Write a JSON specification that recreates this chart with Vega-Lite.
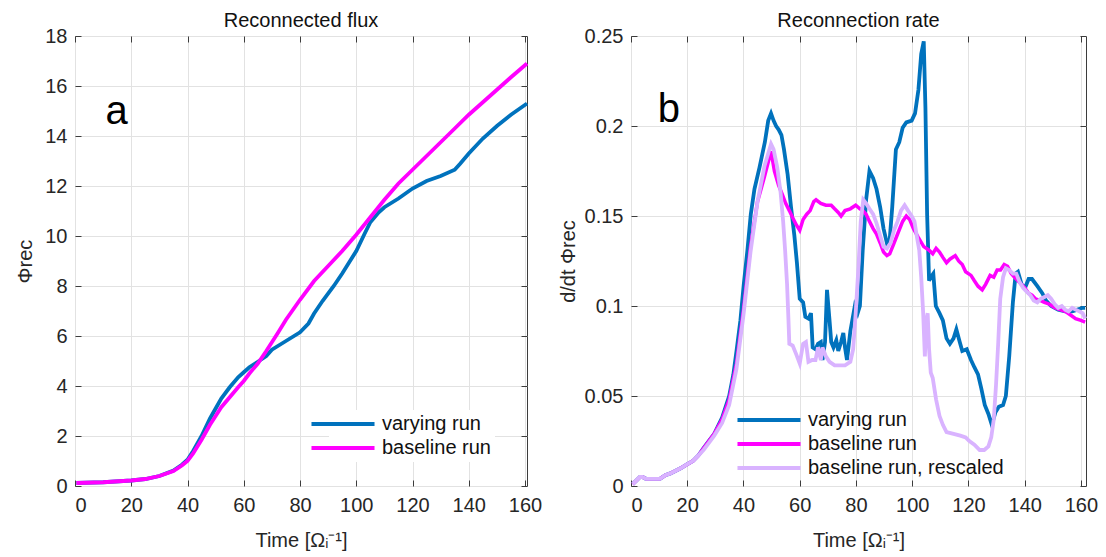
{
  "$schema": "https://vega.github.io/schema/vega-lite/v6.json",
  "padding": {"left": 15, "top": 10, "right": 2, "bottom": 2},
  "spacing": 14,
  "datasets": {
    "flux_vary": [
      {"t":0.5,"v":0.12},{"t":10,"v":0.15},{"t":20,"v":0.22},{"t":25,"v":0.28},{"t":30,"v":0.4},{"t":35,"v":0.62},{"t":38,"v":0.85},{"t":40,"v":1.05},{"t":42,"v":1.4},{"t":45,"v":2.0},{"t":48,"v":2.7},{"t":50,"v":3.1},{"t":52,"v":3.5},{"t":55,"v":3.95},{"t":58,"v":4.35},{"t":60,"v":4.55},{"t":62,"v":4.75},{"t":65,"v":4.97},{"t":68,"v":5.2},{"t":70,"v":5.45},{"t":75,"v":5.8},{"t":80,"v":6.15},{"t":83,"v":6.5},{"t":85,"v":6.9},{"t":88,"v":7.4},{"t":92,"v":8.0},{"t":95,"v":8.5},{"t":100,"v":9.4},{"t":103,"v":10.1},{"t":105,"v":10.55},{"t":108,"v":10.95},{"t":110,"v":11.15},{"t":115,"v":11.5},{"t":120,"v":11.9},{"t":125,"v":12.2},{"t":130,"v":12.4},{"t":135,"v":12.65},{"t":137,"v":12.9},{"t":140,"v":13.3},{"t":145,"v":13.9},{"t":150,"v":14.4},{"t":155,"v":14.85},{"t":160.7,"v":15.3}
    ],
    "flux_base": [
      {"t":0.5,"v":0.12},{"t":10,"v":0.15},{"t":20,"v":0.22},{"t":25,"v":0.28},{"t":30,"v":0.4},{"t":35,"v":0.6},{"t":38,"v":0.82},{"t":40,"v":1.0},{"t":42,"v":1.3},{"t":45,"v":1.85},{"t":48,"v":2.45},{"t":50,"v":2.8},{"t":52,"v":3.15},{"t":55,"v":3.55},{"t":58,"v":3.95},{"t":60,"v":4.2},{"t":62,"v":4.5},{"t":65,"v":4.9},{"t":68,"v":5.4},{"t":70,"v":5.75},{"t":72,"v":6.1},{"t":75,"v":6.65},{"t":80,"v":7.45},{"t":85,"v":8.2},{"t":90,"v":8.8},{"t":95,"v":9.4},{"t":100,"v":10.05},{"t":105,"v":10.75},{"t":110,"v":11.45},{"t":115,"v":12.1},{"t":120,"v":12.65},{"t":125,"v":13.2},{"t":130,"v":13.75},{"t":135,"v":14.3},{"t":140,"v":14.85},{"t":145,"v":15.35},{"t":150,"v":15.85},{"t":155,"v":16.35},{"t":160.7,"v":16.9}
    ],
    "rate_vary": [
      {"t":0.6,"v":0.001},{"t":1.9,"v":0.003},{"t":3.2,"v":0.005},{"t":4.1,"v":0.005},{"t":5.3,"v":0.004},{"t":7.2,"v":0.004},{"t":9.1,"v":0.004},{"t":10.3,"v":0.004},{"t":12.2,"v":0.006},{"t":14,"v":0.007},{"t":15.9,"v":0.0085},{"t":17.8,"v":0.010},{"t":19.9,"v":0.012},{"t":22.1,"v":0.014},{"t":24,"v":0.017},{"t":25.8,"v":0.021},{"t":27.7,"v":0.025},{"t":29.6,"v":0.029},
      {"t":32.4,"v":0.038},{"t":34.9,"v":0.050},{"t":36.4,"v":0.062},{"t":37.6,"v":0.076},{"t":38.9,"v":0.092},{"t":40.1,"v":0.112},{"t":41.4,"v":0.131},{"t":42.6,"v":0.151},{"t":43.9,"v":0.165},{"t":45.7,"v":0.177},{"t":47.6,"v":0.191},{"t":48.8,"v":0.203},{"t":49.8,"v":0.207},{"t":50.7,"v":0.203},{"t":51.6,"v":0.200},{"t":52.5,"v":0.198},{"t":53.5,"v":0.195},{"t":54.4,"v":0.187},{"t":55.7,"v":0.173},{"t":56.9,"v":0.155},{"t":58.1,"v":0.139},{"t":59,"v":0.124},{"t":60,"v":0.104},{"t":61.2,"v":0.102},{"t":62,"v":0.094},{"t":63.1,"v":0.093},{"t":64,"v":0.096},{"t":64.6,"v":0.077},{"t":65.6,"v":0.076},{"t":66.5,"v":0.079},{"t":67.5,"v":0.080},{"t":68.1,"v":0.070},{"t":69,"v":0.080},{"t":69.7,"v":0.109},{"t":70.6,"v":0.092},{"t":71.2,"v":0.080},{"t":72,"v":0.077},{"t":73,"v":0.081},{"t":73.7,"v":0.075},{"t":74.7,"v":0.080},{"t":75.5,"v":0.085},{"t":76.1,"v":0.077},{"t":76.8,"v":0.070},{"t":78,"v":0.086},{"t":79.6,"v":0.100},{"t":80.6,"v":0.096},{"t":81.4,"v":0.100},{"t":82.4,"v":0.131},{"t":83.6,"v":0.159},{"t":84.8,"v":0.175},{"t":86.1,"v":0.171},{"t":87.3,"v":0.165},{"t":88.6,"v":0.155},{"t":89.8,"v":0.143},{"t":91,"v":0.135},{"t":92,"v":0.137},{"t":92.9,"v":0.155},{"t":94.2,"v":0.187},{"t":95.4,"v":0.191},{"t":96.6,"v":0.199},{"t":97.9,"v":0.202},{"t":99.8,"v":0.203},{"t":101,"v":0.207},{"t":102.2,"v":0.220},{"t":103.2,"v":0.240},{"t":104.1,"v":0.247},{"t":104.7,"v":0.210},{"t":105.3,"v":0.151},{"t":106,"v":0.114},{"t":106.6,"v":0.116},{"t":107.5,"v":0.118},{"t":108.4,"v":0.100},{"t":109.7,"v":0.096},{"t":110.9,"v":0.092},{"t":112.2,"v":0.082},{"t":113.4,"v":0.079},{"t":114.7,"v":0.082},{"t":115.7,"v":0.087},{"t":116.9,"v":0.080},{"t":117.8,"v":0.075},{"t":119.4,"v":0.076},{"t":120.9,"v":0.070},{"t":122.1,"v":0.066},{"t":123.4,"v":0.062},{"t":124.6,"v":0.054},{"t":125.8,"v":0.045},{"t":127.1,"v":0.040},{"t":128.3,"v":0.034},{"t":129.6,"v":0.041},{"t":130.8,"v":0.044},{"t":132.3,"v":0.045},{"t":133.3,"v":0.050},{"t":134.5,"v":0.072},{"t":135.8,"v":0.102},{"t":136.8,"v":0.118},{"t":137.6,"v":0.119},{"t":138.9,"v":0.112},{"t":140.1,"v":0.110},{"t":141.4,"v":0.115},{"t":142.6,"v":0.115},{"t":144.5,"v":0.111},{"t":146.3,"v":0.107},{"t":147.6,"v":0.103},{"t":149.4,"v":0.100},{"t":151.9,"v":0.098},{"t":154.4,"v":0.097},{"t":156.9,"v":0.097},{"t":158.8,"v":0.098},{"t":160.6,"v":0.099},{"t":161.5,"v":0.099}
    ],
    "rate_base": [
      {"t":0.6,"v":0.001},{"t":1.9,"v":0.003},{"t":3.2,"v":0.005},{"t":4.1,"v":0.005},{"t":5.3,"v":0.004},{"t":7.2,"v":0.004},{"t":9.1,"v":0.004},{"t":10.3,"v":0.004},{"t":12.2,"v":0.006},{"t":14,"v":0.007},{"t":15.9,"v":0.0085},{"t":17.8,"v":0.010},{"t":19.9,"v":0.012},{"t":22.1,"v":0.014},{"t":24,"v":0.017},{"t":25.8,"v":0.021},{"t":27.7,"v":0.025},{"t":29.6,"v":0.029},
      {"t":32.4,"v":0.037},{"t":34.9,"v":0.048},{"t":37.5,"v":0.068},{"t":40,"v":0.098},{"t":42.5,"v":0.133},{"t":45,"v":0.158},{"t":47.5,"v":0.172},{"t":49.8,"v":0.186},{"t":51,"v":0.175},{"t":52.5,"v":0.167},{"t":53.8,"v":0.162},{"t":55,"v":0.157},{"t":56.3,"v":0.153},{"t":57.5,"v":0.149},{"t":58.8,"v":0.145},{"t":60,"v":0.142},{"t":61.2,"v":0.148},{"t":62.5,"v":0.151},{"t":63.7,"v":0.153},{"t":65,"v":0.158},{"t":65.8,"v":0.159},{"t":67.5,"v":0.157},{"t":69.3,"v":0.156},{"t":71.2,"v":0.156},{"t":72.4,"v":0.154},{"t":73.7,"v":0.152},{"t":74.7,"v":0.150},{"t":76.1,"v":0.153},{"t":78,"v":0.154},{"t":79.9,"v":0.156},{"t":81.4,"v":0.154},{"t":82.4,"v":0.153},{"t":83.6,"v":0.151},{"t":84.8,"v":0.147},{"t":86.1,"v":0.143},{"t":87.3,"v":0.140},{"t":88.6,"v":0.135},{"t":89.8,"v":0.130},{"t":91,"v":0.128},{"t":92,"v":0.129},{"t":93.3,"v":0.134},{"t":94.8,"v":0.140},{"t":96.6,"v":0.147},{"t":97.9,"v":0.150},{"t":99.1,"v":0.148},{"t":100.4,"v":0.143},{"t":102.2,"v":0.138},{"t":104.1,"v":0.133},{"t":106,"v":0.131},{"t":107.3,"v":0.129},{"t":108.5,"v":0.132},{"t":109.7,"v":0.130},{"t":110.9,"v":0.127},{"t":112.2,"v":0.124},{"t":113.4,"v":0.126},{"t":115.3,"v":0.128},{"t":116.5,"v":0.125},{"t":117.8,"v":0.123},{"t":119,"v":0.119},{"t":120.9,"v":0.117},{"t":122.1,"v":0.114},{"t":123.4,"v":0.111},{"t":124.9,"v":0.109},{"t":126.1,"v":0.112},{"t":127.7,"v":0.117},{"t":129,"v":0.116},{"t":130.2,"v":0.120},{"t":131.4,"v":0.120},{"t":132.7,"v":0.123},{"t":133.9,"v":0.122},{"t":135.2,"v":0.118},{"t":136.4,"v":0.116},{"t":137.6,"v":0.114},{"t":138.9,"v":0.112},{"t":140.1,"v":0.110},{"t":141.4,"v":0.107},{"t":142.6,"v":0.106},{"t":143.8,"v":0.104},{"t":145.7,"v":0.103},{"t":147,"v":0.102},{"t":148.8,"v":0.101},{"t":150.7,"v":0.099},{"t":152.5,"v":0.098},{"t":154.4,"v":0.097},{"t":156.3,"v":0.095},{"t":158.1,"v":0.093},{"t":160,"v":0.092},{"t":161.5,"v":0.091}
    ],
    "rate_resc": [
      {"t":0.6,"v":0.001},{"t":1.9,"v":0.003},{"t":3.2,"v":0.005},{"t":4.1,"v":0.005},{"t":5.3,"v":0.004},{"t":7.2,"v":0.004},{"t":9.1,"v":0.004},{"t":10.3,"v":0.004},{"t":12.2,"v":0.006},{"t":14,"v":0.007},{"t":15.9,"v":0.0085},{"t":17.8,"v":0.010},{"t":19.9,"v":0.012},{"t":22.1,"v":0.014},{"t":24,"v":0.017},{"t":25.8,"v":0.020},{"t":27.7,"v":0.024},{"t":29.6,"v":0.028},
      {"t":32.4,"v":0.035},{"t":34.9,"v":0.045},{"t":37.5,"v":0.065},{"t":40,"v":0.095},{"t":42.5,"v":0.130},{"t":45,"v":0.158},{"t":47.5,"v":0.178},{"t":49.8,"v":0.190},{"t":50.7,"v":0.187},{"t":52,"v":0.177},{"t":53.2,"v":0.163},{"t":54.1,"v":0.147},{"t":54.8,"v":0.131},{"t":55.5,"v":0.112},{"t":56,"v":0.092},{"t":56.3,"v":0.079},{"t":57.5,"v":0.078},{"t":58.8,"v":0.073},{"t":60,"v":0.068},{"t":61.2,"v":0.079},{"t":62.2,"v":0.080},{"t":63.1,"v":0.069},{"t":64.4,"v":0.070},{"t":65.6,"v":0.070},{"t":66.5,"v":0.077},{"t":67.5,"v":0.070},{"t":68.1,"v":0.077},{"t":69.3,"v":0.072},{"t":70.6,"v":0.069},{"t":72.4,"v":0.067},{"t":74.3,"v":0.067},{"t":76.1,"v":0.067},{"t":78,"v":0.069},{"t":79,"v":0.076},{"t":79.9,"v":0.096},{"t":80.9,"v":0.122},{"t":81.7,"v":0.147},{"t":82.6,"v":0.159},{"t":83.6,"v":0.157},{"t":84.8,"v":0.154},{"t":86.1,"v":0.151},{"t":87.3,"v":0.146},{"t":88.6,"v":0.139},{"t":89.8,"v":0.133},{"t":91,"v":0.132},{"t":92.3,"v":0.135},{"t":93.5,"v":0.142},{"t":94.8,"v":0.147},{"t":96,"v":0.153},{"t":97.3,"v":0.156},{"t":98.5,"v":0.153},{"t":99.8,"v":0.150},{"t":100.8,"v":0.147},{"t":101.6,"v":0.139},{"t":102.5,"v":0.131},{"t":103.2,"v":0.116},{"t":103.9,"v":0.096},{"t":104.5,"v":0.072},{"t":105,"v":0.092},{"t":105.5,"v":0.096},{"t":106,"v":0.076},{"t":106.6,"v":0.063},{"t":107.3,"v":0.060},{"t":108.5,"v":0.048},{"t":109.7,"v":0.039},{"t":110.9,"v":0.034},{"t":112.2,"v":0.030},{"t":114.7,"v":0.029},{"t":117.1,"v":0.028},{"t":119,"v":0.027},{"t":120.3,"v":0.025},{"t":122.1,"v":0.023},{"t":124,"v":0.020},{"t":125.6,"v":0.020},{"t":127.1,"v":0.022},{"t":128.1,"v":0.027},{"t":129,"v":0.037},{"t":129.8,"v":0.056},{"t":130.6,"v":0.080},{"t":131.3,"v":0.104},{"t":132.3,"v":0.116},{"t":133.3,"v":0.121},{"t":134.5,"v":0.120},{"t":135.8,"v":0.118},{"t":137,"v":0.118},{"t":138.3,"v":0.113},{"t":139.5,"v":0.110},{"t":140.7,"v":0.108},{"t":142,"v":0.106},{"t":143.2,"v":0.103},{"t":144.5,"v":0.102},{"t":145.7,"v":0.104},{"t":147,"v":0.105},{"t":148.2,"v":0.106},{"t":149.4,"v":0.104},{"t":150.7,"v":0.101},{"t":151.9,"v":0.099},{"t":153.2,"v":0.100},{"t":154.4,"v":0.098},{"t":155.6,"v":0.097},{"t":156.9,"v":0.099},{"t":158.1,"v":0.098},{"t":159.4,"v":0.097},{"t":160.6,"v":0.096},{"t":161.5,"v":0.093}
    ]
  },
  "config": {
    "font": "Liberation Sans",
    "view": {"stroke": "#3c3c3c", "strokeWidth": 1},
    "axis": {
      "labelFont": "Liberation Sans", "labelFontSize": 20, "labelColor": "#262626",
      "titleFont": "Liberation Sans", "titleFontSize": 20, "titleFontWeight": "normal", "titleColor": "#262626",
      "domain": false, "tickColor": "#3c3c3c", "tickSize": -6, "tickWidth": 1,
      "gridColor": "#e2e2e2", "gridWidth": 1
    },
    "title": {"font": "Liberation Sans", "fontSize": 20, "fontWeight": "normal", "color": "#111111", "offset": -5},
    "legend": {
      "orient": "none", "symbolType": "M-3.94,0H3.94", "symbolSize": 256, "symbolStrokeWidth": 4,
      "labelFont": "Liberation Sans", "labelFontSize": 20, "labelColor": "#111111", "labelOffset": 29, "labelLimit": 400,
      "rowPadding": 4, "padding": 4, "title": null
    }
  },
  "resolve": {"scale": {"color": "independent"}, "legend": {"color": "independent"}},
  "hconcat": [
    {
      "width": 452, "height": 450,
      "title": "Reconnected flux",
      "resolve": {"axis": {"x": "independent", "y": "independent"}},
      "layer": [
        {
          "data": {"name": "flux_vary"},
          "mark": {"type": "line", "strokeWidth": 3.8},
          "encoding": {
            "x": {"field": "t", "type": "quantitative", "scale": {"domain": [0, 160.7], "nice": false},
                  "axis": {"orient": "bottom", "values": [0,20,40,60,80,100,120,140,160], "title": "Time [Ωᵢ⁻¹]", "labelPadding": 15, "titlePadding": 15}},
            "y": {"field": "v", "type": "quantitative", "scale": {"domain": [0, 18], "nice": false},
                  "axis": {"orient": "left", "values": [0,2,4,6,8,10,12,14,16,18], "title": "Φrec", "labelPadding": 14, "titlePadding": 9}},
            "color": {"datum": "varying run", "type": "nominal",
                      "scale": {"domain": ["varying run", "baseline run"], "range": ["#0072bd", "#ff00ff"]},
                      "legend": {"legendX": 254, "legendY": 374, "fillColor": "white"}}
          }
        },
        {
          "data": {"name": "flux_base"},
          "mark": {"type": "line", "strokeWidth": 3.8},
          "encoding": {
            "x": {"field": "t", "type": "quantitative", "axis": null},
            "y": {"field": "v", "type": "quantitative", "axis": null},
            "color": {"datum": "baseline run", "type": "nominal"}
          }
        },
        {
          "data": {"values": [{}]},
          "mark": {"type": "text", "text": "a", "fontSize": 40, "font": "Liberation Sans", "align": "center", "baseline": "alphabetic", "color": "#000000"},
          "encoding": {
            "x": {"datum": 14.8, "type": "quantitative",
                  "axis": {"orient": "top", "values": [0,20,40,60,80,100,120,140,160], "labels": false, "title": null, "grid": false}},
            "y": {"datum": 14.48, "type": "quantitative",
                  "axis": {"orient": "right", "values": [0,2,4,6,8,10,12,14,16,18], "labels": false, "title": null, "grid": false}}
          }
        }
      ]
    },
    {
      "width": 455, "height": 450,
      "title": "Reconnection rate",
      "resolve": {"axis": {"x": "independent", "y": "independent"}},
      "layer": [
        {
          "data": {"name": "rate_vary"},
          "mark": {"type": "line", "strokeWidth": 3.8},
          "encoding": {
            "x": {"field": "t", "type": "quantitative", "scale": {"domain": [0, 161.8], "nice": false},
                  "axis": {"orient": "bottom", "values": [0,20,40,60,80,100,120,140,160], "title": "Time [Ωᵢ⁻¹]", "labelPadding": 15, "titlePadding": 15}},
            "y": {"field": "v", "type": "quantitative", "scale": {"domain": [0, 0.25], "nice": false},
                  "axis": {"orient": "left", "values": [0,0.05,0.1,0.15,0.2,0.25], "format": "~g", "title": "d/dt Φrec", "labelPadding": 14, "titlePadding": 6}},
            "color": {"datum": "varying run", "type": "nominal",
                      "scale": {"domain": ["varying run", "baseline run", "baseline run, rescaled"], "range": ["#0072bd", "#ff00ff", "#d9b3ff"]},
                      "legend": {"legendX": 124, "legendY": 370}}
          }
        },
        {
          "data": {"name": "rate_base"},
          "mark": {"type": "line", "strokeWidth": 3.5},
          "encoding": {
            "x": {"field": "t", "type": "quantitative", "axis": null},
            "y": {"field": "v", "type": "quantitative", "axis": null},
            "color": {"datum": "baseline run", "type": "nominal"}
          }
        },
        {
          "data": {"name": "rate_resc"},
          "mark": {"type": "line", "strokeWidth": 3.8},
          "encoding": {
            "x": {"field": "t", "type": "quantitative", "axis": null},
            "y": {"field": "v", "type": "quantitative", "axis": null},
            "color": {"datum": "baseline run, rescaled", "type": "nominal"}
          }
        },
        {
          "data": {"values": [{}]},
          "mark": {"type": "text", "text": "b", "fontSize": 40, "font": "Liberation Sans", "align": "center", "baseline": "alphabetic", "color": "#000000"},
          "encoding": {
            "x": {"datum": 13.5, "type": "quantitative",
                  "axis": {"orient": "top", "values": [0,20,40,60,80,100,120,140,160], "labels": false, "title": null, "grid": false}},
            "y": {"datum": 0.202, "type": "quantitative",
                  "axis": {"orient": "right", "values": [0,0.05,0.1,0.15,0.2,0.25], "labels": false, "title": null, "grid": false}}
          }
        }
      ]
    }
  ]
}
